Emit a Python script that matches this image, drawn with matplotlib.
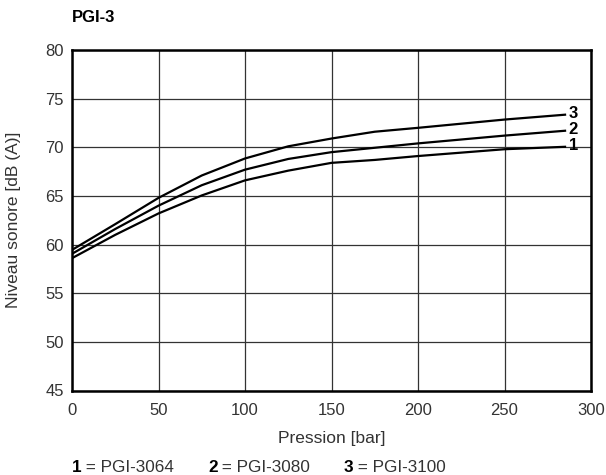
import numpy as np
import matplotlib.pyplot as plt

plt.rcParams['font.family'] = ['Liberation Sans', 'DejaVu Sans']

# (pressure in bar, level in dB(A))
pressure = [0, 25, 50, 75, 100, 125, 150, 175, 200, 250, 285]
pgi_3100 = [59.45, 62.1, 64.8, 67.1, 68.85, 70.1, 70.9, 71.6, 72.0, 72.85, 73.35]
pgi_3080 = [59.05, 61.6, 64.0, 66.1, 67.7, 68.8, 69.5, 69.95, 70.4, 71.2, 71.7]
pgi_3064 = [58.6, 61.0, 63.2, 65.05, 66.6, 67.6, 68.4, 68.7, 69.1, 69.8, 70.05]

curves = [('1', pgi_3064), ('2', pgi_3080), ('3', pgi_3100)]
legend_items = [('1', 'PGI-3064'), ('2', 'PGI-3080'), ('3', 'PGI-3100')]

fig = plt.figure(figsize=(6.06, 4.75), dpi=100)
ax = fig.add_axes([72 / 606, 1 - 390.5 / 475, 519 / 606, 340.5 / 475])

for label, values in curves:
    ax.plot(pressure, values, color='black', lw=1.6, solid_joinstyle='round')
    ax.text(pressure[-1] + 2.0, values[-1] + 0.1, label, fontsize=12, fontweight='bold',
            va='center', ha='left')

ax.set_xlim(0, 300)
ax.set_ylim(45, 80)
ax.set_xticks(np.arange(0, 301, 50))
ax.set_yticks(np.arange(45, 81, 5))
ax.grid(True, color='#333333', lw=0.9)
ax.set_axisbelow(True)
ax.tick_params(length=0, labelsize=12, labelcolor='#333333')
ax.tick_params(axis='x', pad=9)
ax.tick_params(axis='y', pad=6)
for s in ax.spines.values():
    s.set_linewidth(1.8)
    s.set_color('black')

ax.set_xlabel('Pression [bar]', fontsize=12.5, color='#333333', va='center')
ax.xaxis.set_label_coords(0.5, (390.5 - 438) / 340.5)
ax.set_ylabel('Niveau sonore [dB (A)]', fontsize=12.5, color='#333333', va='center')
ax.yaxis.set_label_coords((14 - 72) / 519, 0.5)

fig.text(72 / 606, 1 - 18 / 475, 'PGI-3', fontsize=12, fontweight='bold', va='center')

# footer key
xs = [72, 208, 344]
for x0, (num, name) in zip(xs, legend_items):
    fig.text(x0 / 606, 1 - 467 / 475, num, fontsize=12.3, fontweight='bold', va='center')
    fig.text((x0 + 9) / 606, 1 - 467 / 475, ' = ' + name, fontsize=12.3, color='#333333',
             va='center')

fig.savefig('out.png', dpi=100)
